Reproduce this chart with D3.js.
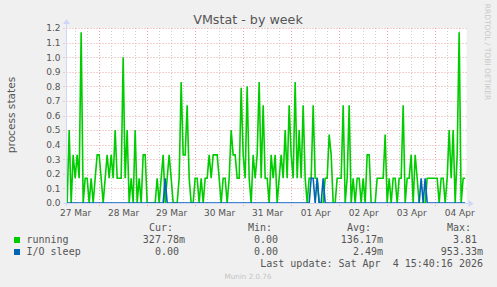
<!DOCTYPE html>
<html>
<head>
<meta charset="utf-8">
<script src="https://cdn.jsdelivr.net/npm/d3@7"></script>
<style>
  body { margin: 0; background: #f0f0f0; }
  svg { display: block; font-family: "DejaVu Sans", sans-serif; }
</style>
</head>
<body>
<div id="chart"></div>
<script>
// Data: hourly averages, first point Mar 27 08:00 (UTC), one row per day

const viewStart = Date.UTC(2026, 2, 27, 7, 40);
const viewEnd = Date.UTC(2026, 3, 4, 15, 40);
const firstPoint = Date.UTC(2026, 2, 27, 8, 0);
const stepMs = 3600 * 1000;

const running = [
  0, 0.5, 0, 0.33, 0.17, 0.33, 0.17, 1.17, 0, 0.17, 0.17, 0, 0.17, 0, 0.17, 0.33,                          // 27 Mar
  0.33, 0.17, 0, 0.17, 0.33, 0.17, 0.33, 0.17, 0.5, 0.17, 0.17, 0.17, 1.0, 0.17, 0.5, 0, 0.17, 0, 0.5, 0, 0.17, 0, 0.33, 0.33, // 28 Mar
  0, 0, 0, 0, 0, 0.17, 0, 0.17, 0.33, 0, 0.17, 0.33, 0.17, 0, 0, 0, 0.17, 0.83, 0.33, 0.33, 0.67, 0.17, 0, 0,       // 29 Mar
  0.17, 0.17, 0, 0.17, 0, 0.17, 0.17, 0.33, 0.17, 0.33, 0.33, 0.33, 0.17, 0, 0.17, 0.17, 0, 0.17, 0.5, 0.33, 0.33, 0.17, 0.17, 0.79, // 30 Mar
  0.33, 0.17, 0.8, 0.17, 0, 0.33, 0.17, 0.33, 0.83, 0.17, 0.67, 0.17, 0.17, 0, 0.33, 0.17, 0.33, 0, 0.17, 0.33, 0.17, 0.5, 0.17, 0.67, // 31 Mar
  0.33, 0.17, 0.83, 0.17, 0.5, 0.17, 0.67, 0.17, 0, 0.17, 0.17, 0.67, 0.17, 0.17, 0, 0, 0, 0.17, 0.17, 0.47, 0.33, 0, 0, 0.17, // 01 Apr
  0.17, 0.17, 0.67, 0, 0.17, 0.67, 0, 0.17, 0, 0.17, 0.17, 0, 0.17, 0, 0.33, 0.33, 0, 0, 0, 0.17, 0.17, 0.17, 0.17, 0.47,    // 02 Apr
  0, 0.17, 0, 0.17, 0.17, 0, 0.17, 0.17, 0.67, 0, 0.17, 0.17, 0.33, 0, 0.33, 0.17, 0, 0, 0, 0, 0.17, 0.17, 0.17, 0.17,      // 03 Apr
  0.17, 0.17, 0, 0.17, 0.17, 0, 0.17, 0.5, 0.17, 0.5, 0, 0.33, 1.17, 0, 0.17, 0.17                          // 04 Apr
];

const ioSleep = [
  0, 0, 0, 0, 0, 0, 0, 0, 0, 0, 0, 0, 0, 0, 0, 0,
  0, 0, 0, 0, 0, 0, 0, 0, 0, 0, 0, 0, 0, 0, 0, 0, 0, 0, 0, 0, 0, 0, 0, 0,
  0, 0, 0, 0, 0, 0, 0, 0, 0, 0.17, 0, 0, 0, 0, 0, 0, 0, 0, 0, 0, 0, 0, 0, 0,
  0, 0, 0, 0, 0, 0, 0, 0, 0, 0, 0, 0, 0, 0, 0, 0, 0, 0, 0, 0, 0, 0, 0, 0,
  0, 0, 0, 0, 0, 0, 0, 0, 0, 0, 0, 0, 0, 0, 0, 0, 0, 0, 0, 0, 0, 0, 0, 0,
  0, 0, 0, 0, 0, 0, 0, 0, 0, 0, 0.17, 0.17, 0, 0.17, 0, 0, 0.17, 0, 0, 0, 0, 0, 0, 0,
  0, 0, 0, 0, 0, 0, 0, 0, 0, 0, 0, 0, 0, 0, 0, 0, 0, 0, 0, 0, 0, 0, 0, 0,
  0, 0, 0, 0, 0, 0, 0, 0, 0, 0, 0, 0, 0, 0, 0, 0, 0, 0.17, 0, 0.17, 0, 0, 0, 0,
  0, 0, 0, 0, 0, 0, 0, 0, 0, 0, 0, 0, 0, 0, 0, 0
];

const yTicks = [0, 0.1, 0.2, 0.3, 0.4, 0.5, 0.6, 0.7, 0.8, 0.9, 1.0, 1.1, 1.2];

const seriesNames = ["running", "I/O sleep"];
const curValues = ["327.78m", "0.00"];
const minValues = ["0.00", "0.00"];
const avgValues = ["136.17m", "2.49m"];
const maxValues = ["3.81", "953.33m"];
const colHeaders = ["Cur:", "Min:", "Avg:", "Max:"];
const lastUpdate = "Last update: Sat Apr  4 15:40:16 2026";

const colors = ["#00cc00", "#0066b3"];
const fontColor = "#555";

// Set up the svg

const W = 497, H = 287;
const plot = { left: 66.5, right: 466.5, top: 28, bottom: 203 };

const svg = d3.select("#chart")
  .append("svg")
    .attr("width", W)
    .attr("height", H);

svg.append("rect")
  .attr("width", W).attr("height", H)
  .attr("fill", "#f0f0f0");

svg.append("rect")
  .attr("x", plot.left).attr("y", plot.top)
  .attr("width", plot.right - plot.left)
  .attr("height", plot.bottom - plot.top)
  .attr("fill", "#fff");

// scales

const x = d3.scaleUtc()
  .domain([new Date(viewStart), new Date(viewEnd)])
  .range([plot.left, plot.right]);

const y = d3.scaleLinear()
  .domain([0, 1.2])
  .range([plot.bottom, plot.top]);

const timeAt = i => new Date(firstPoint + i * stepMs);

// grid: minor every 6 hours, major at midnight, horizontal every 0.1

const sixHours = d3.utcHour.every(6).range(new Date(viewStart), new Date(viewEnd))
  .filter(d => d.getUTCHours() !== 0);
const midnights = d3.utcDay.range(new Date(viewStart), new Date(viewEnd));

svg.append("g")
  .selectAll("line")
  .data(sixHours)
  .join("line")
    .attr("x1", d => Math.round(x(d)) + 0.5)
    .attr("x2", d => Math.round(x(d)) + 0.5)
    .attr("y1", plot.top)
    .attr("y2", plot.bottom + 2)
    .attr("stroke", "#cfcfcf")
    .attr("stroke-dasharray", "1,2");

svg.append("g")
  .selectAll("line")
  .data(midnights)
  .join("line")
    .attr("x1", d => Math.round(x(d)) + 0.5)
    .attr("x2", d => Math.round(x(d)) + 0.5)
    .attr("y1", plot.top)
    .attr("y2", plot.bottom + 3)
    .attr("stroke", "#eaa3a3")
    .attr("stroke-dasharray", "1,2");

svg.append("g")
  .selectAll("line")
  .data(yTicks.filter(d => d > 0))
  .join("line")
    .attr("x1", plot.left - 3)
    .attr("x2", plot.right)
    .attr("y1", d => Math.round(y(d)) + 0.5)
    .attr("y2", d => Math.round(y(d)) + 0.5)
    .attr("stroke", "#eaa3a3")
    .attr("stroke-dasharray", "1,2");

// y axis labels

svg.append("g")
  .attr("transform", `translate(${plot.left},0)`)
  .call(d3.axisLeft(y).tickValues(yTicks).tickFormat(d3.format(".1f")).tickSize(0).tickPadding(6))
  .call(g => g.select(".domain").remove())
  .selectAll("text")
    .attr("font-family", "DejaVu Sans")
    .attr("font-size", 9)
    .attr("fill", fontColor);

// x axis labels, centered on noon of each day

const noons = midnights.map(d => d3.utcHour.offset(d, -12))
  .concat([d3.utcHour.offset(midnights[midnights.length - 1], 12)])
  .filter(d => d >= viewStart && d <= viewEnd);

svg.append("g")
  .attr("transform", `translate(0,${plot.bottom})`)
  .call(d3.axisBottom(x).tickValues(noons).tickFormat(d3.utcFormat("%d %b")).tickSize(0).tickPadding(7))
  .call(g => g.select(".domain").remove())
  .selectAll("text")
    .attr("font-family", "DejaVu Sans")
    .attr("font-size", 9)
    .attr("fill", fontColor);

// lines

const line = d3.line()
  .x((d, i) => x(timeAt(i)))
  .y(d => y(d));

[running, ioSleep].forEach((series, k) => {
  svg.append("path")
    .datum(series)
    .attr("d", line)
    .attr("fill", "none")
    .attr("stroke", colors[k])
    .attr("stroke-width", 1.6)
    .attr("stroke-linejoin", "miter");
});

// axes lines with arrows

const axisColor = "#cfd6f8";
svg.append("line")
  .attr("x1", plot.left - 3).attr("x2", plot.right + 2)
  .attr("y1", plot.bottom + 0.5).attr("y2", plot.bottom + 0.5)
  .attr("stroke", axisColor);
svg.append("line")
  .attr("x1", plot.left).attr("x2", plot.left)
  .attr("y1", plot.bottom + 3).attr("y2", plot.top - 4)
  .attr("stroke", axisColor);
svg.append("path")
  .attr("d", `M${plot.right + 2},${plot.bottom - 3}L${plot.right + 7},${plot.bottom + 0.5}L${plot.right + 2},${plot.bottom + 4}Z`)
  .attr("fill", axisColor);
svg.append("path")
  .attr("d", `M${plot.left - 3.5},${plot.top - 4}L${plot.left},${plot.top - 9}L${plot.left + 3.5},${plot.top - 4}Z`)
  .attr("fill", axisColor);

// titles

svg.append("text")
  .attr("x", 248).attr("y", 24)
  .attr("text-anchor", "middle")
  .attr("font-size", 12.7)
  .attr("fill", fontColor)
  .text("VMstat - by week");

svg.append("text")
  .attr("transform", "translate(15,115) rotate(-90)")
  .attr("text-anchor", "middle")
  .attr("font-size", 10.6)
  .attr("fill", fontColor)
  .text("process states");

svg.append("text")
  .attr("transform", "translate(485,52) rotate(90)")
  .attr("text-anchor", "middle")
  .attr("font-size", 7.5)
  .attr("fill", "#c8c8c8")
  .text("RRDTOOL / TOBI OETIKER");

svg.append("text")
  .attr("x", 248).attr("y", 279)
  .attr("text-anchor", "middle")
  .attr("font-size", 7.2)
  .attr("fill", "#c4c4c4")
  .text("Munin 2.0.76");

// legend

const mono = "DejaVu Sans Mono";
const charW = 6;
const colEnds = [185, 284, 383, 483];
const rowBase = [243, 255];

svg.append("g")
  .selectAll("text")
  .data(colHeaders)
  .join("text")
    .attr("x", (d, i) => colEnds[i] - 2 * charW)
    .attr("y", 230.5)
    .attr("text-anchor", "end")
    .attr("font-family", mono)
    .attr("font-size", 10)
    .attr("fill", fontColor)
    .text(d => d);

seriesNames.forEach((name, k) => {
  const g = svg.append("g");
  g.append("rect")
    .attr("x", 14).attr("y", rowBase[k] - 6)
    .attr("width", 6).attr("height", 6)
    .attr("fill", colors[k]);
  g.append("text")
    .attr("x", 26.5).attr("y", rowBase[k])
    .attr("font-family", mono)
    .attr("font-size", 10)
    .attr("fill", fontColor)
    .text(name);
  const vals = [curValues[k], minValues[k], avgValues[k], maxValues[k]];
  g.selectAll(".val")
    .data(vals)
    .join("text")
      .attr("class", "val")
      .attr("x", (d, i) => /[a-z]$/i.test(d) ? colEnds[i] : colEnds[i] - charW)
      .attr("y", rowBase[k])
      .attr("text-anchor", "end")
      .attr("font-family", mono)
      .attr("font-size", 10)
      .attr("fill", fontColor)
      .text(d => d);
});

svg.append("text")
  .attr("x", 483).attr("y", 266.5)
  .attr("text-anchor", "end")
  .attr("font-family", mono)
  .attr("font-size", 10)
  .attr("fill", fontColor)
  .style("white-space", "pre")
  .text(lastUpdate);
</script>
</body>
</html>
